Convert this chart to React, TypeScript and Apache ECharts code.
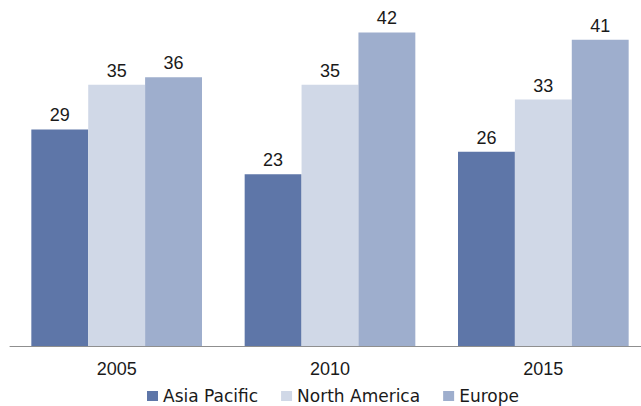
import React, { useEffect, useRef } from "react";
import * as echarts from "echarts";

const categories = ["2005", "2010", "2015"];
const seriesNames = ["Asia Pacific", "North America", "Europe"];
const asiaPacific = [29, 23, 26];
const northAmerica = [35, 35, 33];
const europe = [36, 42, 41];
const colors = ["#5E76A8", "#D0D8E7", "#9EAECD"];

export default function App() {
  const ref = useRef<HTMLDivElement>(null);
  useEffect(() => {
    document.body.style.margin = "0";
    const chart = echarts.init(ref.current!, null, { renderer: "svg" });
    const values = [asiaPacific, northAmerica, europe];
    chart.setOption({
      animation: false,
      backgroundColor: "#ffffff",
      grid: {
        left: 10,
        top: 10,
        width: 640,
        height: 336,
        containLabel: false,
        outerBoundsMode: "none",
      },
      legend: {
        data: seriesNames,
        left: 147,
        top: 387,
        padding: 0,
        itemWidth: 11,
        itemHeight: 10,
        itemGap: 23,
        icon: "rect",
        textStyle: { fontFamily: "DejaVu Sans", fontSize: 17, color: "#1a1a1a", lineHeight: 18 },
      },
      xAxis: {
        type: "category",
        data: categories,
        axisLine: { show: true, lineStyle: { color: "#8f8f8f", width: 1 } },
        axisTick: { show: false },
        axisLabel: { margin: 14, fontFamily: "Liberation Sans", fontSize: 18, color: "#1a1a1a" },
      },
      yAxis: {
        type: "value",
        min: 0,
        max: 45,
        show: false,
        splitLine: { show: false },
      },
      series: seriesNames.map((name, i) => ({
        name,
        type: "bar",
        data: values[i],
        barGap: "0%",
        barCategoryGap: "20%",
        itemStyle: { color: colors[i] },
        label: {
          show: true,
          position: "top",
          distance: 5,
          fontFamily: "Liberation Sans",
          fontSize: 18,
          color: "#1a1a1a",
        },
      })),
    });
    return () => chart.dispose();
  }, []);
  return <div ref={ref} style={{ width: 641, height: 406 }} />;
}
